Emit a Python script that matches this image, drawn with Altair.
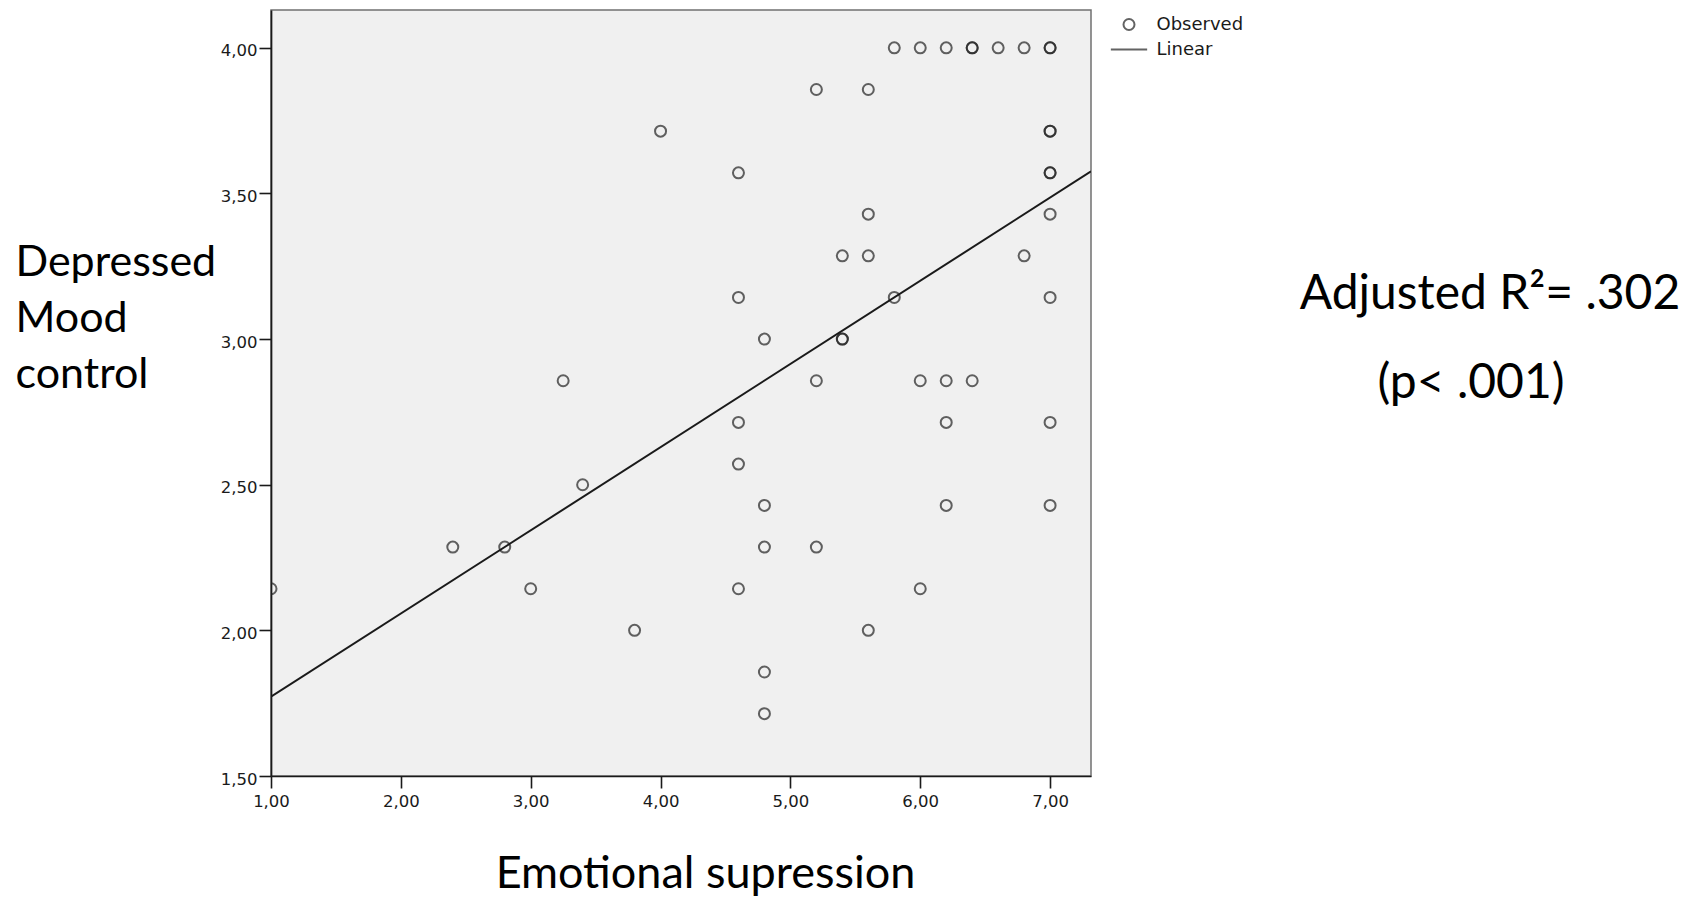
import altair as alt
import pandas as pd

# Observed points (Emotional supression, Depressed Mood control)
obs_x = [5.8, 6.0, 6.2, 6.4, 6.4, 6.6, 6.8, 7.0, 7.0,
         5.2, 5.6,
         4.0, 7.0, 7.0,
         4.6, 7.0, 7.0,
         5.6, 7.0,
         5.4, 5.6, 6.8,
         4.6, 5.8, 7.0,
         4.8, 5.4, 5.4,
         3.25, 5.2, 6.0, 6.2, 6.4,
         4.6, 6.2, 7.0,
         4.6,
         3.4,
         4.8, 6.2, 7.0,
         2.4, 2.8, 4.8, 5.2,
         1.0, 3.0, 4.6, 6.0,
         3.8, 5.6,
         4.8,
         4.8]
obs_y = [4.0, 4.0, 4.0, 4.0, 4.0, 4.0, 4.0, 4.0, 4.0,
         3.857, 3.857,
         3.714, 3.714, 3.714,
         3.571, 3.571, 3.571,
         3.429, 3.429,
         3.286, 3.286, 3.286,
         3.143, 3.143, 3.143,
         3.0, 3.0, 3.0,
         2.857, 2.857, 2.857, 2.857, 2.857,
         2.714, 2.714, 2.714,
         2.571,
         2.5,
         2.429, 2.429, 2.429,
         2.286, 2.286, 2.286, 2.286,
         2.143, 2.143, 2.143, 2.143,
         2.0, 2.0,
         1.857,
         1.714]

# Linear fit line endpoints
fit_x = [1.0, 7.315]
fit_y = [1.772, 3.576]

x_ticks = [1, 2, 3, 4, 5, 6, 7]
y_ticks = [1.5, 2.0, 2.5, 3.0, 3.5, 4.0]
legend_items = ["Observed", "Linear"]

ann_r2 = "Adjusted R²= .302"
ann_p = "(p< .001)"

df_obs = pd.DataFrame({"x": obs_x, "y": obs_y, "series": ["Observed"] * len(obs_x)})
df_fit = pd.DataFrame({"x": fit_x, "y": fit_y})

xscale = alt.Scale(domain=[1.0, 7.315], nice=False, zero=False)
yscale = alt.Scale(domain=[1.5, 4.13], nice=False, zero=False)
comma = "replace(format(datum.value, '.2f'), '.', ',')"

common_axis = dict(labelFont="DejaVu Sans", labelFontSize=16.5, labelColor="#1a1a1a",
                   tickSize=12, tickWidth=1.6, tickColor="#1a1a1a",
                   domainColor="#1a1a1a", domainWidth=1.7, grid=False,
                   titleFont="Lato", titleFontWeight="normal",
                   titleColor="black", labelFlush=False)

xaxis = alt.Axis(values=x_ticks, labelExpr=comma, title="Emotional supression",
                 titleFontSize=45, titleX=434, titleY=111, titleAlign="center",
                 titleBaseline="alphabetic", labelPadding=5, **common_axis)
yaxis = alt.Axis(values=y_ticks, labelExpr=comma, title=["Depressed", "Mood", "control"],
                 titleFontSize=43, titleAngle=0, titleAlign="left", titleBaseline="alphabetic",
                 titleX=-256, titleY=265, titleLineHeight=56,
                 labelPadding=2, labelOffset=3, **common_axis)

points = alt.Chart(df_obs).mark_point(
    filled=False, size=121, strokeWidth=2.0, color="#222222", clip=True
).encode(
    x=alt.X("x:Q", scale=xscale, axis=xaxis),
    y=alt.Y("y:Q", scale=yscale, axis=yaxis),
    shape=alt.Shape("series:N",
                    scale=alt.Scale(domain=legend_items, range=["circle", "M-3.3,0H3.3"]),
                    legend=alt.Legend(title=None, orient="none", legendX=849, legendY=5.5,
                                      symbolSize=121, symbolStrokeColor="#222222",
                                      symbolStrokeWidth=2.0, symbolFillColor="transparent",
                                      labelFont="DejaVu Sans", labelFontSize=18,
                                      labelColor="#1a1a1a", labelOffset=18.5,
                                      rowPadding=6, padding=0)),
)

line = alt.Chart(df_fit).mark_line(color="#1a1a1a", strokeWidth=2.0, clip=True).encode(
    x=alt.X("x:Q", scale=xscale),
    y=alt.Y("y:Q", scale=yscale),
)

txt1 = alt.Chart(pd.DataFrame({"t": [ann_r2]})).mark_text(
    font="Lato", fontSize=48, align="center", baseline="alphabetic", color="black"
).encode(x=alt.value(1219), y=alt.value(299), text="t:N")

txt2 = alt.Chart(pd.DataFrame({"t": [ann_p]})).mark_text(
    font="Lato", fontSize=48, align="center", baseline="alphabetic", color="black"
).encode(x=alt.value(1200), y=alt.value(388), text="t:N")

chart = alt.layer(points, line, txt1, txt2).properties(
    width=820, height=766,
    autosize=alt.AutoSizeParams(type="none"),
    padding={"left": 271, "top": 10, "right": 609, "bottom": 125},
    background="white",
).configure_view(fill="#f0f0f0", stroke="#707070", strokeWidth=1.5)

chart.save("out.html", embed_options={"renderer": "svg", "actions": False})
